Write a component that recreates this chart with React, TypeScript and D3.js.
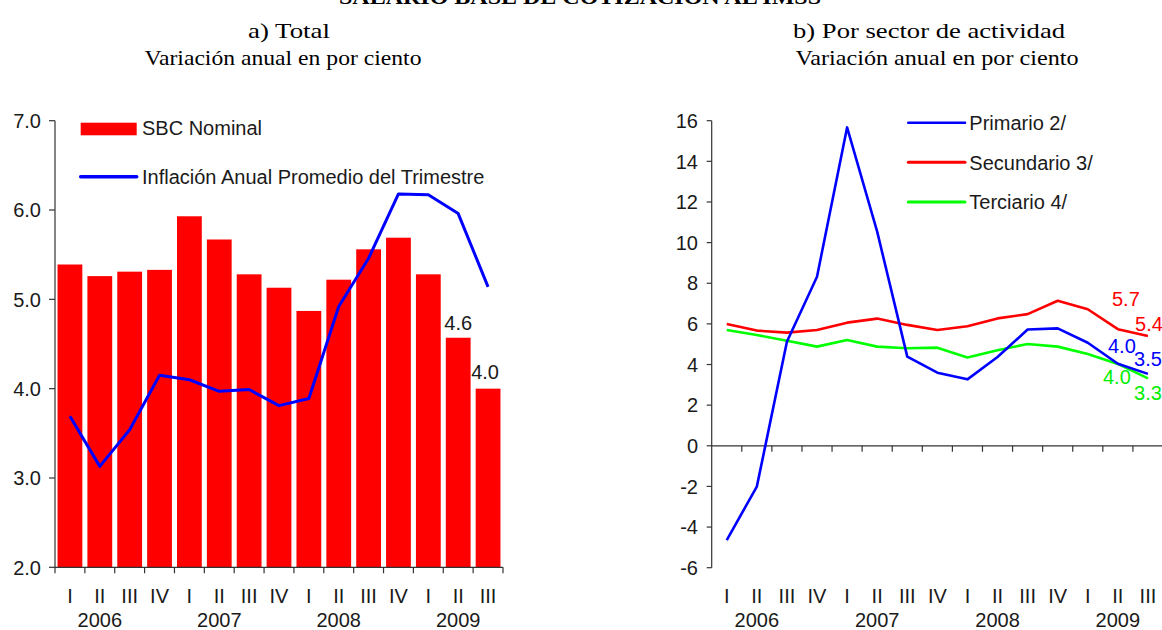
import React from "react";
import * as d3 from "d3";

const quarters = ["I", "II", "III", "IV", "I", "II", "III", "IV", "I", "II", "III", "IV", "I", "II", "III"];
const years = [
  { label: "2006", idx: 1 },
  { label: "2007", idx: 5 },
  { label: "2008", idx: 9 },
  { label: "2009", idx: 13 },
];
const sbcNominal = [5.39, 5.26, 5.31, 5.33, 5.93, 5.67, 5.28, 5.13, 4.87, 5.22, 5.56, 5.69, 5.28, 4.57, 4.0];
const inflacion = [3.69, 3.13, 3.54, 4.15, 4.1, 3.97, 3.99, 3.81, 3.89, 4.92, 5.46, 6.18, 6.17, 5.96, 5.14];
const primario = [-4.64, -2.01, 5.12, 8.32, 15.67, 10.54, 4.39, 3.6, 3.27, 4.37, 5.72, 5.78, 5.07, 4.04, 3.54];
const secundario = [5.99, 5.67, 5.57, 5.7, 6.06, 6.26, 5.95, 5.7, 5.88, 6.27, 6.48, 7.14, 6.72, 5.74, 5.4];
const terciario = [5.7, 5.45, 5.17, 4.88, 5.21, 4.88, 4.8, 4.83, 4.35, 4.7, 5.01, 4.88, 4.52, 4.03, 3.32];
const leftTicks = [2, 3, 4, 5, 6, 7];
const rightTicks = [-6, -4, -2, 0, 2, 4, 6, 8, 10, 12, 14, 16];

const SANS = "'Liberation Sans', Arial, sans-serif";
const SERIF = "'Times New Roman', 'Liberation Serif', Times, serif";
const TXT = "#1a1a1a";
const FS = 20;

export default function App() {
  const idx = quarters.map((_, i) => i);
  const xL = d3.scaleBand<number>().domain(idx).range([55, 503]);
  const yL = d3.scaleLinear().domain([2, 7]).range([567.3, 120.7]);
  const xR = d3.scaleBand<number>().domain(idx).range([711.7, 1163]);
  const yR = d3.scaleLinear().domain([-6, 16]).range([567.7, 120.7]);

  const lineL = d3
    .line<number>()
    .x((_, i) => (xL(i) as number) + xL.bandwidth() / 2)
    .y((d) => yL(d));
  const lineR = d3
    .line<number>()
    .x((_, i) => (xR(i) as number) + xR.bandwidth() / 2)
    .y((d) => yR(d));

  const bw = xL.bandwidth() * 0.83;
  const cL = (i: number) => (xL(i) as number) + xL.bandwidth() / 2;
  const cR = (i: number) => (xR(i) as number) + xR.bandwidth() / 2;
  const last = quarters.length - 1;

  return (
    <svg width={1162} height={630} style={{ position: "absolute", left: 0, top: 0, background: "#fff" }}>
      {/* titles */}
      <text x={580} y={4} textAnchor="middle" fontFamily={SERIF} fontWeight="bold" fontSize={22} fill="#000" textLength={482} lengthAdjust="spacingAndGlyphs">
        SALARIO BASE DE COTIZACIÓN AL IMSS
      </text>
      <text x={289} y={37.5} textAnchor="middle" fontFamily={SERIF} fontSize={22} fill="#000" textLength={82} lengthAdjust="spacingAndGlyphs">
        a) Total
      </text>
      <text x={283} y={65} textAnchor="middle" fontFamily={SERIF} fontSize={22} fill="#000" textLength={277} lengthAdjust="spacingAndGlyphs">
        Variación anual en por ciento
      </text>
      <text x={929} y={37.5} textAnchor="middle" fontFamily={SERIF} fontSize={22} fill="#000" textLength={272} lengthAdjust="spacingAndGlyphs">
        b) Por sector de actividad
      </text>
      <text x={937} y={65} textAnchor="middle" fontFamily={SERIF} fontSize={22} fill="#000" textLength={283} lengthAdjust="spacingAndGlyphs">
        Variación anual en por ciento
      </text>

      {/* LEFT CHART */}
      {sbcNominal.map((v, i) => (
        <rect key={i} x={cL(i) - bw / 2} y={yL(v)} width={bw} height={yL(2) - yL(v)} fill="#ff0000" />
      ))}
      <path d={lineL(inflacion) || ""} fill="none" stroke="#0000ff" strokeWidth={3} strokeLinejoin="round" />
      <line x1={55} x2={55} y1={yL(7)} y2={yL(2)} stroke="#333" strokeWidth={1.2} />
      <line x1={55} x2={503} y1={yL(2)} y2={yL(2)} stroke="#333" strokeWidth={1.2} />
      {leftTicks.map((t) => (
        <g key={t}>
          <line x1={49} x2={55} y1={yL(t)} y2={yL(t)} stroke="#333" strokeWidth={1.2} />
          <text x={41} y={yL(t)} dy="0.36em" textAnchor="end" fontFamily={SANS} fontSize={FS} fill={TXT}>
            {t.toFixed(1)}
          </text>
        </g>
      ))}
      {d3.range(quarters.length + 1).map((k) => {
        const x = 55 + k * xL.bandwidth();
        return <line key={k} x1={x} x2={x} y1={yL(2)} y2={yL(2) + 6} stroke="#333" strokeWidth={1.2} />;
      })}
      {quarters.map((q, i) => (
        <text key={i} x={cL(i)} y={603} textAnchor="middle" fontFamily={SANS} fontSize={FS} fill={TXT}>
          {q}
        </text>
      ))}
      {years.map((y) => (
        <text key={y.label} x={cL(y.idx)} y={627} textAnchor="middle" fontFamily={SANS} fontSize={FS} fill={TXT}>
          {y.label}
        </text>
      ))}
      <text x={cL(last - 1)} y={yL(sbcNominal[last - 1]) - 8} textAnchor="middle" fontFamily={SANS} fontSize={FS} fill={TXT}>
        {sbcNominal[last - 1].toFixed(1)}
      </text>
      <text x={cL(last) - 3} y={yL(sbcNominal[last]) - 10} textAnchor="middle" fontFamily={SANS} fontSize={FS} fill={TXT}>
        {sbcNominal[last].toFixed(1)}
      </text>
      {/* left legend */}
      <rect x={80.7} y={122.7} width={56} height={12.6} fill="#ff0000" />
      <text x={142} y={135} fontFamily={SANS} fontSize={FS} fill={TXT}>SBC Nominal</text>
      <line x1={80.7} x2={136.7} y1={176.7} y2={176.7} stroke="#0000ff" strokeWidth={3.5} strokeLinecap="round" />
      <text x={142} y={183.5} fontFamily={SANS} fontSize={FS} fill={TXT}>Inflación Anual Promedio del Trimestre</text>

      {/* RIGHT CHART */}
      <line x1={711.7} x2={711.7} y1={yR(16)} y2={yR(-6)} stroke="#333" strokeWidth={1.2} />
      <line x1={711.7} x2={1163} y1={yR(0)} y2={yR(0)} stroke="#333" strokeWidth={1.2} />
      {rightTicks.map((t) => (
        <g key={t}>
          <line x1={706.7} x2={711.7} y1={yR(t)} y2={yR(t)} stroke="#333" strokeWidth={1.2} />
          <text x={698} y={yR(t)} dy="0.36em" textAnchor="end" fontFamily={SANS} fontSize={FS} fill={TXT}>
            {t}
          </text>
        </g>
      ))}
      {d3.range(1, quarters.length).map((k) => {
        const x = 711.7 + k * xR.bandwidth();
        return <line key={k} x1={x} x2={x} y1={yR(0)} y2={yR(0) + 6} stroke="#333" strokeWidth={1.2} />;
      })}
      {quarters.map((q, i) => (
        <text key={i} x={cR(i)} y={603} textAnchor="middle" fontFamily={SANS} fontSize={FS} fill={TXT}>
          {q}
        </text>
      ))}
      {years.map((y) => (
        <text key={y.label} x={cR(y.idx)} y={627} textAnchor="middle" fontFamily={SANS} fontSize={FS} fill={TXT}>
          {y.label}
        </text>
      ))}
      <path d={lineR(secundario) || ""} fill="none" stroke="#ff0000" strokeWidth={2.6} strokeLinejoin="round" />
      <path d={lineR(terciario) || ""} fill="none" stroke="#00ff00" strokeWidth={2.6} strokeLinejoin="round" />
      <path d={lineR(primario) || ""} fill="none" stroke="#0000ff" strokeWidth={2.6} strokeLinejoin="round" />
      {/* end labels */}
      <text x={cR(last - 1) + 8} y={306} textAnchor="middle" fontFamily={SANS} fontSize={FS} fill="#ff0000">{secundario[last - 1].toFixed(1)}</text>
      <text x={cR(last) + 1} y={331} textAnchor="middle" fontFamily={SANS} fontSize={FS} fill="#ff0000">{secundario[last].toFixed(1)}</text>
      <text x={cR(last - 1) + 4} y={353} textAnchor="middle" fontFamily={SANS} fontSize={FS} fill="#0000ff">{primario[last - 1].toFixed(1)}</text>
      <text x={cR(last) + 0} y={366} textAnchor="middle" fontFamily={SANS} fontSize={FS} fill="#0000ff">{primario[last].toFixed(1)}</text>
      <text x={cR(last - 1) - 1} y={384} textAnchor="middle" fontFamily={SANS} fontSize={FS} fill="#00ee00">{terciario[last - 1].toFixed(1)}</text>
      <text x={cR(last) + 0} y={400} textAnchor="middle" fontFamily={SANS} fontSize={FS} fill="#00ee00">{terciario[last].toFixed(1)}</text>
      {/* right legend */}
      <line x1={908.3} x2={965} y1={122.7} y2={122.7} stroke="#0000ff" strokeWidth={2.6} strokeLinecap="round" />
      <text x={969.3} y={129.5} fontFamily={SANS} fontSize={FS} fill={TXT}>Primario 2/</text>
      <line x1={908.3} x2={965} y1={162.3} y2={162.3} stroke="#ff0000" strokeWidth={3} strokeLinecap="round" />
      <text x={969.3} y={169.5} fontFamily={SANS} fontSize={FS} fill={TXT}>Secundario 3/</text>
      <line x1={908.3} x2={965} y1={202} y2={202} stroke="#00ff00" strokeWidth={3} strokeLinecap="round" />
      <text x={969.3} y={209} fontFamily={SANS} fontSize={FS} fill={TXT}>Terciario 4/</text>
    </svg>
  );
}
